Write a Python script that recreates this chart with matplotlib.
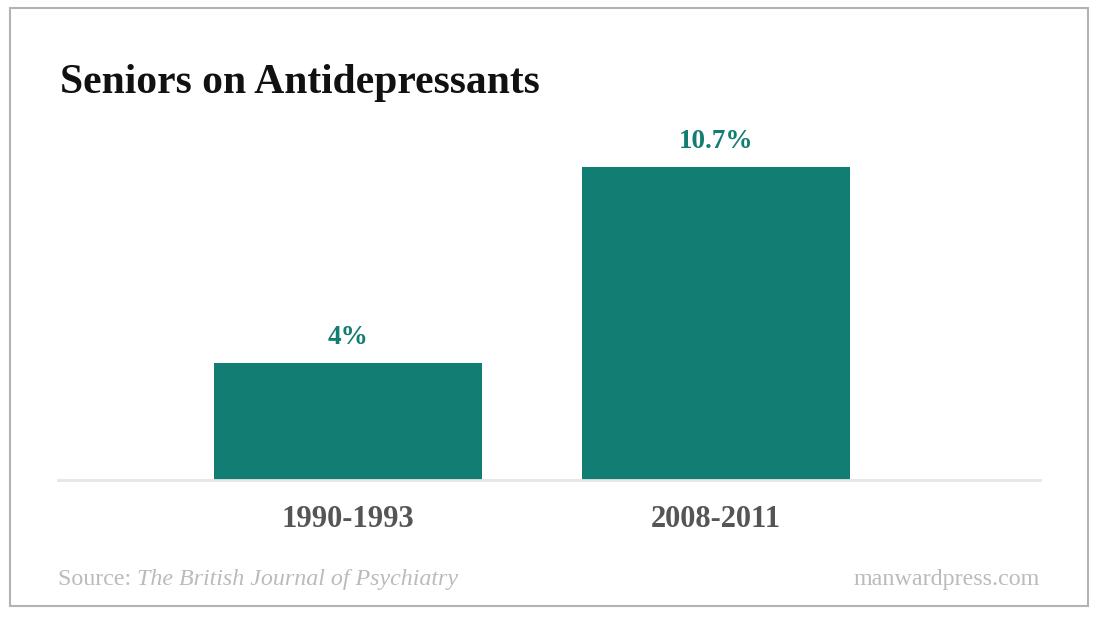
import matplotlib.pyplot as plt
from matplotlib.patches import Rectangle

plt.rcParams['font.family'] = ['Liberation Serif', 'DejaVu Serif']

periods = ['1990-1993', '2008-2011']
shares = [4.0, 10.7]
share_labels = ['4%', '10.7%']

teal = '#127d73'

fig = plt.figure(figsize=(11, 6.2), dpi=100)
W, H = 1100, 620

# outer frame
fig.patches.append(Rectangle((10 / W, 14 / H), 1078 / W, 598 / H, transform=fig.transFigure,
                             fill=False, edgecolor='#b3b3b3', linewidth=1.5))

ax = fig.add_axes([58 / W, 140 / H, 982 / W, 351 / H])
x = range(len(periods))
bars = ax.bar(x, shares, width=0.728, color=teal)
ax.set_xlim(-0.788, 1.880)
ax.set_ylim(0, 12)

for b, lab in zip(bars, share_labels):
    ax.annotate(lab, (b.get_x() + b.get_width() / 2, b.get_height()),
                xytext=(0, 14), textcoords='offset points', ha='center', va='baseline',
                color=teal, fontsize=19.5, fontweight='bold')

ax.set_xticks(list(x))
ax.set_xticklabels(periods, fontsize=22, fontweight='bold', color='#555555')
ax.tick_params(axis='x', length=0, pad=18)
ax.set_yticks([])
for s in ['top', 'right', 'left']:
    ax.spines[s].set_visible(False)
ax.spines['bottom'].set_color('#e6e6e6')
ax.spines['bottom'].set_linewidth(2)

fig.text(60 / W, 527 / H, 'Seniors on Antidepressants', fontsize=30, fontweight='bold',
         color='#111111', va='baseline', ha='left')

src = fig.text(58 / W, 35 / H, 'Source: ', fontsize=17.3, color='#bbbbbb', va='baseline')
fig.canvas.draw()
bb = src.get_window_extent()
fig.text(bb.x1 / W, 35 / H, 'The British Journal of Psychiatry', fontsize=17.3, style='italic',
         color='#bbbbbb', va='baseline')
fig.text(1040 / W, 35 / H, 'manwardpress.com', fontsize=17.3, color='#bbbbbb',
         va='baseline', ha='right')

fig.savefig('out.png', dpi=100)
